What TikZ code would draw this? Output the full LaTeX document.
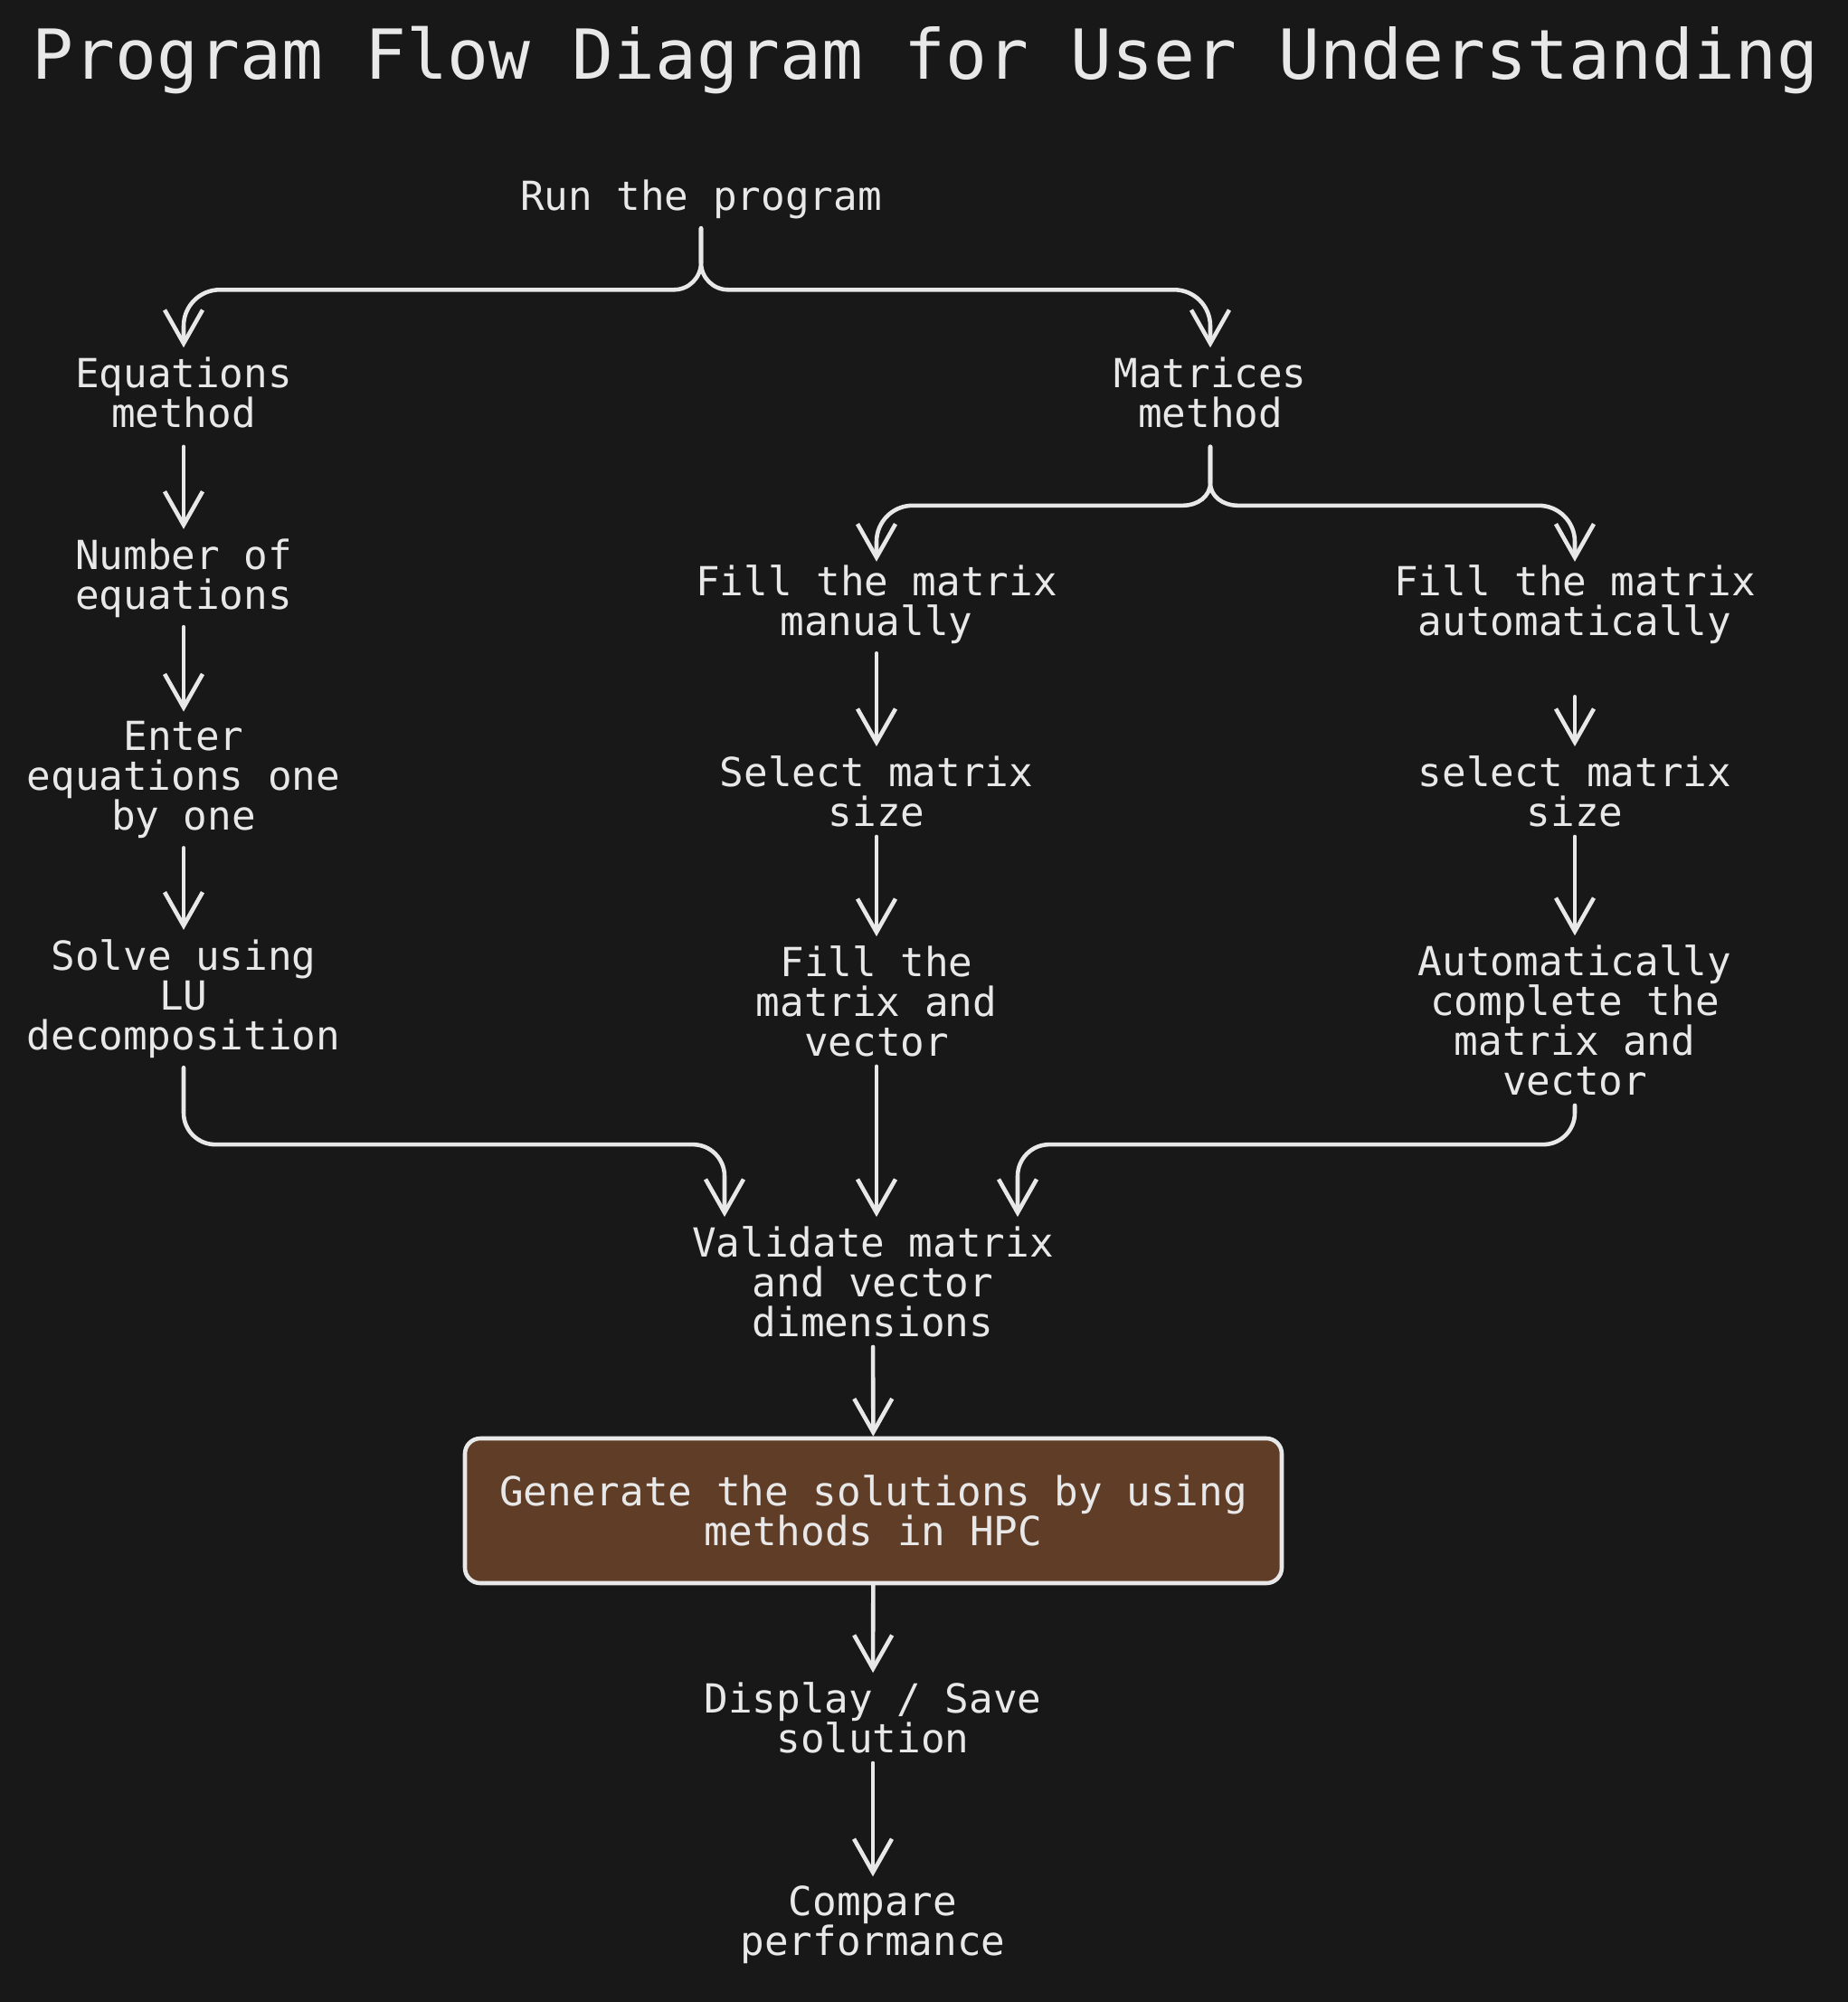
\documentclass[tikz,border=0pt]{standalone}
\usepackage{fontspec}
\setmainfont{DejaVu Sans Mono}
\usepackage{xcolor}
\usepackage{tikz}
\usetikzlibrary{arrows.meta}
\usetikzlibrary{calc}
\definecolor{bgdark}{HTML}{181818}
\definecolor{ink}{HTML}{E8E8E8}
\definecolor{boxbrown}{HTML}{5F3D27}

\begin{document}
\begin{tikzpicture}[
	lbl/.style={text=ink,align=center,inner sep=0.1cm,font=\fontsize{12.6}{12.5}\selectfont},
	flow/.style={draw=ink,line width=1.3pt,line cap=round,-{Straight Barb[length=0.37cm,width=0.42cm,line width=1.3pt]}},
	genbox/.style={lbl,draw=ink,fill=boxbrown,line width=1.3pt,rounded corners=0.17cm,minimum width=9.03cm,minimum height=1.6cm}]
	\fill[bgdark] (0,0) rectangle (20.43,-22.13);
	\useasboundingbox (0,0) rectangle (20.43,-22.13);
	% title
	\node[text=ink,font=\fontsize{21.7}{24}\selectfont] (title) at (10.23,-0.67) {Program Flow Diagram for User Understanding};
	% top
	\node[lbl] (run) at (7.75,-2.20) {Run the program};
	\node[lbl] (eqm) at (2.03,-4.34) {Equations\\method};
	\node[lbl] (mat) at (13.38,-4.34) {Matrices\\method};
	% left column
	\node[lbl] (num) at (2.03,-6.39) {Number of\\equations};
	\node[lbl] (enter) at (2.03,-8.62) {Enter\\equations one\\by one};
	\node[lbl] (solve) at (2.03,-11.04) {Solve using\\LU\\decomposition};
	% middle column
	\node[lbl] (fman) at (9.69,-6.68) {Fill the matrix\\manually};
	\node[lbl] (selm) at (9.69,-8.75) {Select matrix\\size};
	\node[lbl] (fillv) at (9.69,-11.07) {Fill the\\matrix and\\vector};
	% right column
	\node[lbl] (fauto) at (17.41,-6.68) {Fill the matrix\\automatically};
	\node[lbl] (sela) at (17.41,-8.75) {select matrix\\size};
	\node[lbl] (autoc) at (17.41,-11.28) {Automatically\\complete the\\matrix and\\vector};
	% bottom
	\node[lbl] (valid) at (9.65,-14.17) {Validate matrix\\and vector\\dimensions};
	\node[genbox] (gen) at (9.655,-16.70) {Generate the solutions by using\\methods in HPC};
	\node[lbl] (disp) at (9.65,-18.99) {Display / Save\\solution};
	\node[lbl] (comp) at (9.65,-21.28) {Compare\\performance};

	\draw[flow] (run.south) -- ++(0,-0.38) to[out=-90,in=0] ++(-0.3,-0.3) [rounded corners=0.4cm] -| (eqm.north);
	\draw[flow] (run.south) -- ++(0,-0.38) to[out=-90,in=180] ++(0.3,-0.3) [rounded corners=0.4cm] -| (mat.north);
	\draw[flow,shorten <=0.1cm,shorten >=-0.07cm] (mat.south) -- ++(0,-0.5) to[out=-90,in=0] ++(-0.3,-0.25) [rounded corners=0.4cm] -| (fman.north);
	\draw[flow,shorten <=0.1cm,shorten >=-0.07cm] (mat.south) -- ++(0,-0.5) to[out=-90,in=180] ++(0.3,-0.25) [rounded corners=0.4cm] -| (fauto.north -| sela.north);

	\draw[flow,shorten <=0.1cm] (eqm) -- (num);
	\draw[flow] (num) -- (enter);
	\draw[flow] (enter) -- (solve);
	\draw[flow] (fman) -- (selm);
	\draw[flow] (selm) -- (fillv);
	\draw[flow,shorten <=0.48cm] (fauto) -- (sela);
	\draw[flow] (sela) -- (autoc);

	\draw[flow,rounded corners=0.35cm] (solve.south) |- ([xshift=-1.64cm,yshift=0.8cm]valid.north) -- ([xshift=-1.64cm]valid.north);
	\draw[flow] (fillv.south) -- (fillv.south |- valid.north);
	\draw[flow,rounded corners=0.35cm] (autoc.south) |- ([xshift=1.6cm,yshift=0.8cm]valid.north) -- ([xshift=1.6cm]valid.north);

	\draw[flow] (valid) -- (gen);
	\draw[flow] (gen) -- (disp);
	\draw[flow] (disp) -- (comp);
\end{tikzpicture}
\end{document}
